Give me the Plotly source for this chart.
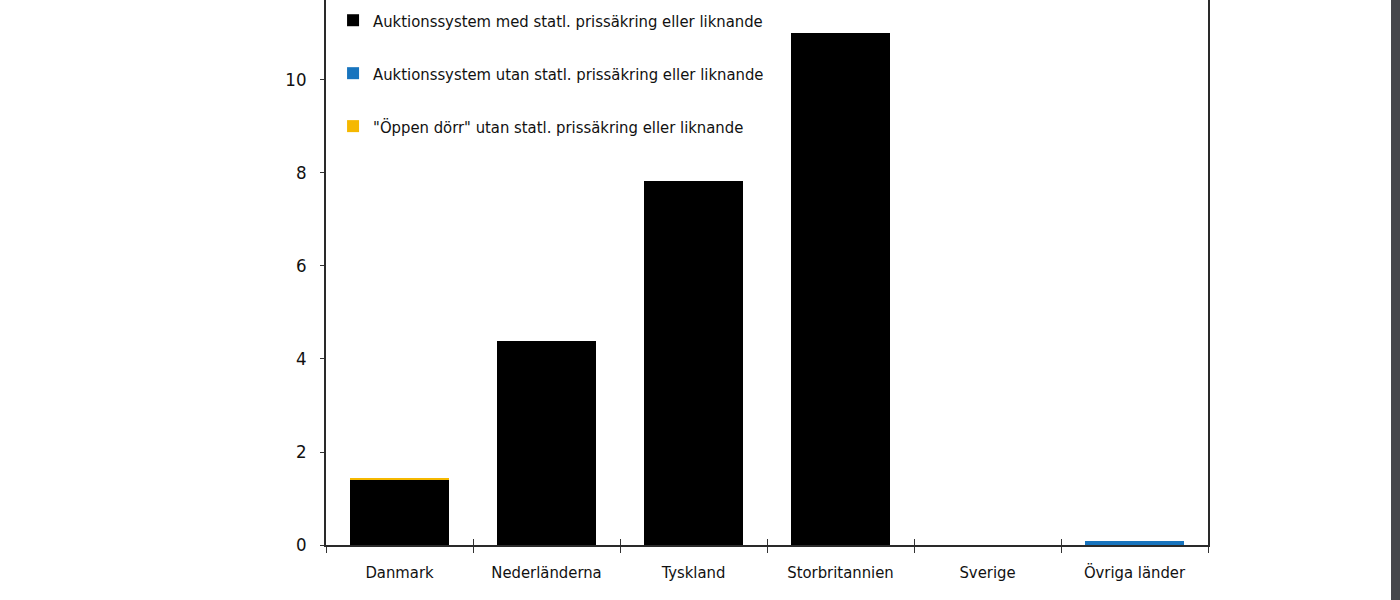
import plotly.graph_objects as go

categories = ["Danmark", "Nederländerna", "Tyskland", "Storbritannien", "Sverige", "Övriga länder"]
auktion_med = [1.40, 4.38, 7.83, 11.01, 0.0, 0.0]
auktion_utan = [0.0, 0.0, 0.0, 0.0, 0.0, 0.08]
oppen_dorr = [0.03, 0.0, 0.0, 0.0, 0.0, 0.0]
y_ticks = [0, 2, 4, 6, 8, 10]

names = [
    "Auktionssystem med statl. prissäkring eller liknande",
    "Auktionssystem utan statl. prissäkring eller liknande",
    "\"Öppen dörr\" utan statl. prissäkring eller liknande",
]
colors = ["#000000", "#1874be", "#f5b800"]

FONT = "Liberation Sans Narrow, Arial Narrow, DejaVu Sans Condensed, sans-serif"
FS = 16.5

fig = go.Figure()
for i, (vals, nm, col) in enumerate(zip([auktion_med, auktion_utan, oppen_dorr], names, colors)):
    fig.add_trace(go.Bar(
        x=categories, y=vals, name=nm, marker=dict(color=col, line=dict(width=0)),
        width=0.667, legendgroup=f"g{i}",
    ))

# invisible trace on overlay axis for inward ticks crossing the axis line
fig.add_trace(go.Bar(x=categories, y=[0] * len(categories), xaxis="x2", showlegend=False,
                     hoverinfo="skip", marker=dict(color="rgba(0,0,0,0)")))

fig.update_layout(
    width=1400, height=600,
    margin=dict(l=326, r=192, t=0, b=55),
    barmode="stack",
    plot_bgcolor="white", paper_bgcolor="white",
    font=dict(family=FONT, size=FS, color="#111111"),
    showlegend=True,
    legend=dict(
        x=0.008, y=1 - 3 / 545, xanchor="left", yanchor="top",
        traceorder="grouped", tracegroupgap=28.5,
        font=dict(family=FONT, size=FS, color="#111111"),
        bgcolor="rgba(0,0,0,0)", itemwidth=30,
    ),
    xaxis=dict(
        type="category", categoryorder="array", categoryarray=categories,
        showline=True, linecolor="#2a2a2a", linewidth=1.8,
        ticks="outside", ticklen=6, tickwidth=1.2, tickcolor="#333333",
        tickson="boundaries", showgrid=False, zeroline=False,
        ticklabelstandoff=11,
        tickfont=dict(family=FONT, size=FS, color="#111111"),
    ),
    xaxis2=dict(
        overlaying="x", matches="x", type="category", categoryorder="array", categoryarray=categories,
        showline=False, ticks="inside", ticklen=6, tickwidth=1.2, tickcolor="#333333",
        tickson="boundaries", showticklabels=False, showgrid=False, zeroline=False,
    ),
    yaxis=dict(
        range=[0, 11.72], tickvals=y_ticks, ticktext=[str(v) for v in y_ticks],
        showline=True, linecolor="#2a2a2a", linewidth=1.5, mirror=True,
        ticks="outside", ticklen=4, tickwidth=1, tickcolor="#333333",
        showgrid=False, zeroline=False, ticklabelstandoff=10,
        tickfont=dict(family=FONT, size=FS + 2, color="#111111"),
    ),
    shapes=[dict(
        type="rect", xref="paper", yref="paper",
        x0=(1391 - 326) / 882, x1=(1400 - 326) / 882, y0=-55 / 545, y1=1.0,
        fillcolor="#46474b", line=dict(width=0), layer="above",
    )],
)

fig.write_html("out.html")
